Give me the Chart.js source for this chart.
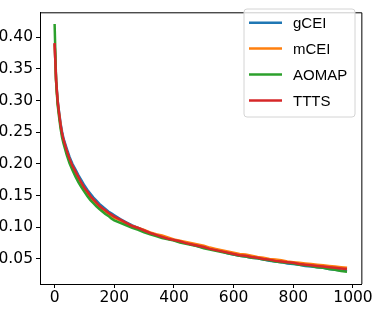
<!DOCTYPE html>
<html>
<head>
<meta charset="utf-8">
<script src="https://cdn.jsdelivr.net/npm/chart.js@4"></script>
<style>
html,body{margin:0;padding:0;background:#fff;}
canvas{display:block;}
</style>
</head>
<body>
<canvas id="c" width="374" height="310"></canvas>
<script>
const iterations = [0,5,10,15,20,25,30,40,50,60,70,80,90,100,110,120,130,140,150,160,170,180,190,200,
220,240,260,280,300,320,340,360,380,400,420,440,460,480,500,520,540,560,580,600,620,640,660,680,700,720,740,760,780,800,820,840,860,880,900,920,940,960,980];

const gCEI = [0.390,0.332,0.301,0.282,0.264,0.251,0.240,0.225,0.211,0.200,0.191,0.182,0.174,0.166,0.159,0.153,0.147,0.142,0.137,0.133,0.129,0.125,0.122,0.119,
0.113,0.108,0.103,0.099,0.095,0.091,0.088,0.085,0.082,0.080,0.077,0.075,0.073,0.070,0.068,0.066,0.064,0.062,0.059,0.057,0.055,0.054,0.052,0.051,0.049,0.047,0.046,0.045,0.043,0.042,0.041,0.039,0.038,0.037,0.036,0.034,0.033,0.032,0.031];

const mCEI = [0.389,0.330,0.297,0.278,0.260,0.246,0.236,0.220,0.206,0.195,0.185,0.176,0.168,0.160,0.153,0.147,0.142,0.137,0.132,0.128,0.125,0.121,0.118,0.115,
0.111,0.106,0.102,0.099,0.096,0.092,0.089,0.087,0.084,0.081,0.079,0.077,0.075,0.073,0.071,0.068,0.066,0.064,0.062,0.060,0.058,0.057,0.055,0.053,0.052,0.050,0.049,0.048,0.046,0.045,0.044,0.043,0.042,0.041,0.040,0.039,0.038,0.037,0.036];

const AOMAP = [0.421,0.330,0.294,0.274,0.256,0.242,0.232,0.215,0.201,0.190,0.180,0.171,0.163,0.156,0.149,0.143,0.138,0.133,0.129,0.125,0.121,0.118,0.114,0.111,
0.107,0.103,0.099,0.096,0.092,0.089,0.086,0.083,0.081,0.079,0.076,0.074,0.072,0.070,0.067,0.065,0.063,0.061,0.059,0.057,0.055,0.054,0.052,0.051,0.049,0.048,0.046,0.045,0.044,0.043,0.041,0.040,0.039,0.037,0.036,0.034,0.033,0.031,0.030];

const TTTS = [0.391,0.333,0.300,0.280,0.262,0.248,0.238,0.222,0.208,0.197,0.188,0.179,0.170,0.162,0.156,0.149,0.144,0.139,0.134,0.130,0.127,0.123,0.120,0.117,
0.112,0.107,0.102,0.099,0.095,0.091,0.088,0.085,0.082,0.080,0.078,0.075,0.073,0.071,0.069,0.066,0.064,0.062,0.060,0.058,0.056,0.055,0.053,0.052,0.050,0.049,0.047,0.046,0.045,0.044,0.042,0.041,0.040,0.039,0.038,0.037,0.036,0.035,0.034];

const seriesNames = ['gCEI','mCEI','AOMAP','TTTS'];
const seriesData = [gCEI, mCEI, AOMAP, TTTS];
const seriesColors = ['#1f77b4','#ff7f0e','#2ca02c','#d62728'];
const xTicks = [0,200,400,600,800,1000];
const yTicks = [0.05,0.10,0.15,0.20,0.25,0.30,0.35,0.40];

const datasets = seriesNames.map((name, i) => ({
  label: name,
  data: iterations.map((x, j) => ({x: x, y: seriesData[i][j]})),
  borderColor: seriesColors[i],
  backgroundColor: seriesColors[i],
  borderWidth: 2.5,
  pointRadius: 0,
  tension: 0,
  fill: false,
  order: 4 - i
}));

const framePlugin = {
  id: 'frame',
  afterDraw(chart) {
    const ctx = chart.ctx;
    const a = chart.chartArea;
    ctx.save();
    ctx.strokeStyle = '#000';
    ctx.lineWidth = 1;
    ctx.beginPath();
    ctx.moveTo(a.left, a.top + 0.5);
    ctx.lineTo(a.right + 0.5, a.top + 0.5);
    ctx.lineTo(a.right + 0.5, a.bottom);
    ctx.stroke();

    // legend
    const bx = 244, by = 9, bw = 111, bh = 108, r = 3;
    ctx.beginPath();
    ctx.moveTo(bx + r, by);
    ctx.lineTo(bx + bw - r, by);
    ctx.arcTo(bx + bw, by, bx + bw, by + r, r);
    ctx.lineTo(bx + bw, by + bh - r);
    ctx.arcTo(bx + bw, by + bh, bx + bw - r, by + bh, r);
    ctx.lineTo(bx + r, by + bh);
    ctx.arcTo(bx, by + bh, bx, by + bh - r, r);
    ctx.lineTo(bx, by + r);
    ctx.arcTo(bx, by, bx + r, by, r);
    ctx.closePath();
    ctx.fillStyle = 'rgba(255,255,255,0.8)';
    ctx.fill();
    ctx.strokeStyle = '#d4d4d4';
    ctx.lineWidth = 1;
    ctx.stroke();

    const rows = [22.7, 48.5, 74.6, 100.6];
    ctx.font = '15px "Liberation Sans", Arial, sans-serif';
    ctx.textBaseline = 'middle';
    ctx.textAlign = 'left';
    chart.data.datasets.forEach((ds, i) => {
      ctx.strokeStyle = ds.borderColor;
      ctx.lineWidth = 2.5;
      ctx.beginPath();
      ctx.moveTo(249, rows[i]);
      ctx.lineTo(282, rows[i]);
      ctx.stroke();
      ctx.fillStyle = '#000';
      ctx.fillText(ds.label, 293, rows[i] + 1);
    });
    ctx.restore();
  }
};

new Chart(document.getElementById('c'), {
  type: 'line',
  data: { datasets: datasets },
  options: {
    responsive: false,
    animation: false,
    layout: { padding: { top: 0, right: 11, left: 0, bottom: 0 } },
    plugins: { legend: { display: false }, tooltip: { enabled: false } },
    scales: {
      x: {
        type: 'linear',
        min: -49,
        max: 1028,
        afterBuildTicks: (s) => { s.ticks = xTicks.map(v => ({value: v})); },
        afterFit: (s) => { s.height = 26; },
        ticks: {
          color: '#000',
          font: { family: '"DejaVu Sans"', size: 15.5 },
          padding: 1,
          maxRotation: 0,
          autoSkip: false,
          callback: (v) => String(v)
        },
        grid: { display: true, drawOnChartArea: false, drawTicks: true, tickLength: 4, color: '#000' },
        border: { display: true, color: '#000', width: 1 }
      },
      y: {
        type: 'linear',
        min: 0.0105,
        max: 0.4395,
        afterBuildTicks: (s) => { s.ticks = yTicks.map(v => ({value: v})); },
        afterFit: (s) => { s.width = 40; },
        ticks: {
          color: '#000',
          font: { family: '"DejaVu Sans"', size: 15.5 },
          padding: 3,
          autoSkip: false,
          callback: (v) => Number(v).toFixed(2)
        },
        grid: { display: true, drawOnChartArea: false, drawTicks: true, tickLength: 4, color: '#000' },
        border: { display: true, color: '#000', width: 1 }
      }
    }
  },
  plugins: [framePlugin]
});
</script>
</body>
</html>
